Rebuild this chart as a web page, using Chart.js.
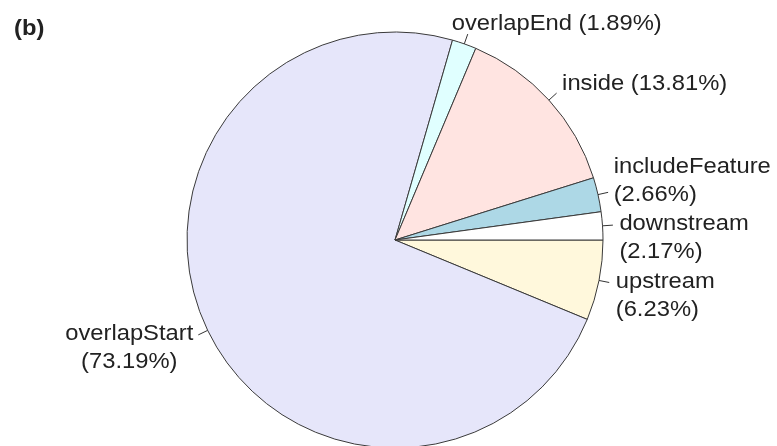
<!DOCTYPE html>
<html>
<head>
<meta charset="utf-8">
<script src="https://cdn.jsdelivr.net/npm/chart.js@4"></script>
<style>
  body { margin: 0; background: #fff; overflow: hidden; }
  #wrap { position: relative; width: 777px; height: 480px; }
</style>
</head>
<body>
<div id="wrap"><canvas id="chart-pie"></canvas></div>
<script>
// categories listed counter-clockwise starting at 3 o'clock
const categories = ["downstream", "includeFeature", "inside", "overlapEnd", "overlapStart", "upstream"];
const percents = [2.17, 2.66, 13.81, 1.89, 73.19, 6.23];
const sliceColors = ["#FFFFFF", "#ADD8E6", "#FFE4E1", "#E0FFFF", "#E6E6FA", "#FFF8DC"];

// label layout: two-line labels put the percentage under the name,
// offsets are measured from the outer end of each leader line
const wrapLabel = [true, true, false, false, true, true];
const labelDx = [6.5, 5.5, 5.5, -16, -5, 6.5];
const labelDy = [5, -19, -3, -4, 5, 5.5];
const lineGap = 28;
const textStretch = 1.08;
const labelFont = "22px 'Liberation Sans', Arial, sans-serif";

function drawText(ctx, text, x, y) {
  ctx.save();
  ctx.translate(x, y);
  ctx.scale(textStretch, 1);
  ctx.fillText(text, 0, 0);
  ctx.restore();
}

const pieLabels = {
  id: "pieLabels",
  afterDraw(chart) {
    const ctx = chart.ctx;
    const arcs = chart.getDatasetMeta(0).data;
    const n = categories.length;

    ctx.save();
    ctx.font = labelFont;
    ctx.fillStyle = "#222";
    ctx.strokeStyle = "#333";
    ctx.lineWidth = 1;
    ctx.textBaseline = "alphabetic";

    arcs.forEach((arc, j) => {
      const i = n - 1 - j; // dataset is stored clockwise
      const p = arc.getProps(["x", "y", "startAngle", "endAngle", "outerRadius"], true);
      const mid = (p.startAngle + p.endAngle) / 2;
      const cx = Math.cos(mid);
      const cy = Math.sin(mid);
      const ex = p.x + cx * p.outerRadius * 1.05;
      const ey = p.y + cy * p.outerRadius * 1.05;

      ctx.beginPath();
      ctx.moveTo(p.x + cx * p.outerRadius, p.y + cy * p.outerRadius);
      ctx.lineTo(ex, ey);
      ctx.stroke();

      const pct = "(" + percents[i].toFixed(2) + "%)";
      const lines = wrapLabel[i] ? [categories[i], pct] : [categories[i] + " " + pct];
      const widths = lines.map((l) => ctx.measureText(l).width * textStretch);
      const blockW = Math.max(...widths);
      const left = cx < 0 ? ex + labelDx[i] - blockW : ex + labelDx[i];

      lines.forEach((line, k) => {
        const lx = cx < 0 ? left + (blockW - widths[k]) / 2 : left;
        drawText(ctx, line, lx, ey + labelDy[i] + k * lineGap);
      });
    });

    ctx.font = "bold 22px 'Liberation Sans', Arial, sans-serif";
    drawText(ctx, "(b)", 14, 34.5);
    ctx.restore();
  },
};

new Chart(document.getElementById("chart-pie"), {
  type: "pie",
  data: {
    labels: categories.slice().reverse(),
    datasets: [
      {
        data: percents.slice().reverse(),
        backgroundColor: sliceColors.slice().reverse(),
        borderColor: "#3a3a3a",
        borderWidth: 1,
        radius: 208,
      },
    ],
  },
  options: {
    responsive: true,
    maintainAspectRatio: false,
    animation: false,
    events: [],
    rotation: 90,
    layout: {
      padding: { left: 187, right: 174, top: 32, bottom: 32 },
    },
    plugins: {
      legend: { display: false },
      tooltip: { enabled: false },
    },
  },
  plugins: [pieLabels],
});
</script>
</body>
</html>
